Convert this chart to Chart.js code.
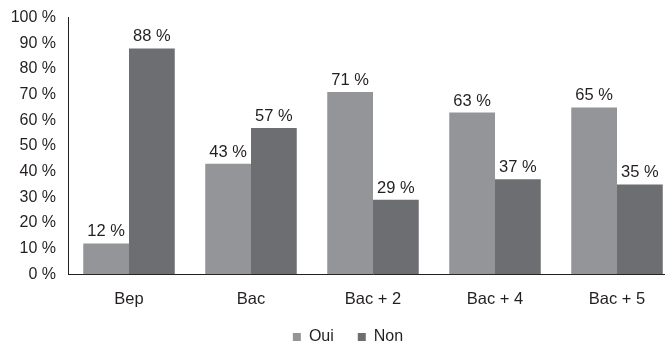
<!DOCTYPE html>
<html>
<head>
<meta charset="utf-8">
<script src="https://cdn.jsdelivr.net/npm/chart.js@4/dist/chart.umd.min.js"></script>
<style>
  html, body { margin: 0; padding: 0; background: #fff; overflow: hidden; width: 665px; height: 342px; }
  #wrap { position: absolute; left: 0; top: 0; width: 700px; height: 374px; }
  canvas { display: block; }
</style>
</head>
<body>
<div id="wrap"><canvas id="c" width="700" height="374"></canvas></div>
<script>
const categories = ["Bep", "Bac", "Bac + 2", "Bac + 4", "Bac + 5"];
const seriesNames = ["Oui", "Non"];
const ouiValues = [12, 43, 71, 63, 65];
const nonValues = [88, 57, 29, 37, 35];
const yMin = 0, yMax = 100, yStep = 10;

const TEXT = "#231f20";
const FONT = "'Liberation Sans', Arial, Helvetica, sans-serif";

const valueLabels = {
  id: "valueLabels",
  afterDatasetsDraw(chart) {
    const ctx = chart.ctx;
    ctx.save();
    ctx.fillStyle = TEXT;
    ctx.font = "16.5px " + FONT;
    ctx.textAlign = "center";
    ctx.textBaseline = "alphabetic";
    chart.data.datasets.forEach((ds, di) => {
      const meta = chart.getDatasetMeta(di);
      meta.data.forEach((el, i) => {
        ctx.fillText(ds.data[i] + " %", el.x, el.y - 7);
      });
    });
    ctx.restore();
  }
};

const legendPlace = {
  id: "legendPlace",
  afterLayout(chart) {
    const lg = chart.legend;
    if (!lg) return;
    const dx = 9;
    const dy = 305 - lg.top;
    lg.left += dx; lg.right += dx;
    lg.top += dy; lg.bottom += dy;
  }
};

new Chart(document.getElementById("c"), {
  type: "bar",
  data: {
    labels: categories,
    datasets: [
      { label: seriesNames[0], data: ouiValues, backgroundColor: "#939598", borderWidth: 0,
        categoryPercentage: 0.75, barPercentage: 1.0 },
      { label: seriesNames[1], data: nonValues, backgroundColor: "#6d6e71", borderWidth: 0,
        categoryPercentage: 0.75, barPercentage: 1.0 }
    ]
  },
  options: {
    responsive: false,
    animation: false,
    devicePixelRatio: 1,
    layout: { padding: { left: 0, right: 22, top: 3, bottom: 0 } },
    plugins: {
      tooltip: { enabled: false },
      legend: {
        position: "bottom",
        labels: {
          boxWidth: 8, boxHeight: 8, padding: 24,
          color: TEXT,
          font: { family: FONT, size: 16 }
        }
      }
    },
    scales: {
      x: {
        grid: { display: false, drawTicks: false },
        border: { display: true, color: TEXT, width: 1 },
        ticks: { color: TEXT, padding: 15, font: { family: FONT, size: 16.5 } }
      },
      y: {
        min: yMin, max: yMax,
        grid: { display: false, drawTicks: false },
        border: { display: true, color: TEXT, width: 1 },
        ticks: {
          stepSize: yStep,
          color: TEXT, padding: 12,
          font: { family: FONT, size: 16, lineHeight: 0.7 },
          callback: (v) => v + " %"
        },
        afterFit(scale) { scale.width = 68; }
      }
    }
  },
  plugins: [valueLabels, legendPlace]
});
</script>
</body>
</html>
